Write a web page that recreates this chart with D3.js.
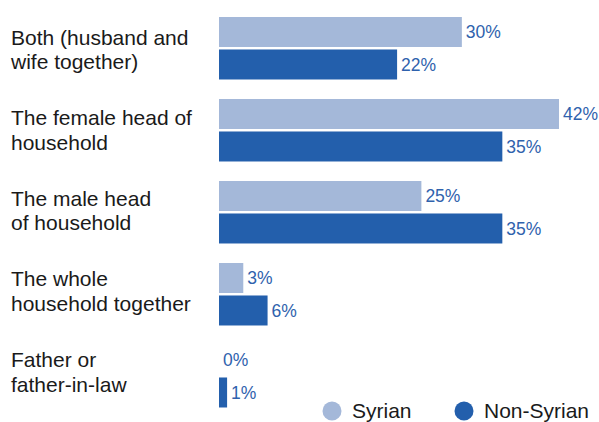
<!DOCTYPE html>
<html><head><meta charset="utf-8">
<script src="https://cdn.jsdelivr.net/npm/d3@7"></script>
<style>body{margin:0;background:#fff;}svg{display:block;font-family:"Liberation Sans",Arial,sans-serif;}</style>
</head><body>
<svg id="chart" width="599" height="422"></svg>
<script>
const categories = ["Both (husband and|wife together)", "The female head of|household", "The male head|of household", "The whole|household together", "Father or|father-in-law"];
const seriesNames = ["Syrian", "Non-Syrian"];
const syrian = [30, 42, 25, 3, 0];
const nonSyrian = [22, 35, 35, 6, 1];
const colors = ["#a4b8d9", "#235fac"];

const svg = d3.select("#chart");
const x = d3.scaleLinear().domain([0, 42]).range([219, 559]);
const y = d3.scaleBand().domain(categories).range([17, 427]).paddingInner(0).paddingOuter(0);
const sub = d3.scaleBand().domain(seriesNames).range([0, 64]).paddingInner(0.03);
const labelY = d3.scalePoint().domain(categories).range([44.5, 367]);

const data = categories.map((c, i) => ({c, vals: [syrian[i], nonSyrian[i]]}));

const g = svg.selectAll("g.grp").data(data).join("g").attr("class", "grp");
g.selectAll("rect").data(d => d.vals.map((v, k) => ({c: d.c, v, k}))).join("rect")
  .attr("x", x(0))
  .attr("y", d => y(d.c) + sub(seriesNames[d.k]))
  .attr("width", d => x(d.v) - x(0))
  .attr("height", 30)
  .attr("fill", d => colors[d.k]);
g.selectAll("text.val").data(d => d.vals.map((v, k) => ({c: d.c, v, k}))).join("text")
  .attr("class", "val")
  .attr("x", d => x(d.v) + 4)
  .attr("y", d => y(d.c) + sub(seriesNames[d.k]) + 15 + 6.3)
  .attr("font-size", 17.5)
  .attr("fill", "#2f62ad")
  .text(d => d.v + "%");

// category labels
const lab = svg.selectAll("text.cat").data(categories).join("text")
  .attr("class", "cat")
  .attr("x", 11)
  .attr("y", d => labelY(d))
  .attr("font-size", 21)
  .attr("fill", "#1a1a1a");
lab.selectAll("tspan").data(d => d.split("|")).join("tspan")
  .attr("x", 11)
  .attr("dy", (d, i) => i === 0 ? 0 : 24.5)
  .text(d => d);

// legend
const legendX = [332, 464];
const lg = svg.selectAll("g.lg").data(seriesNames).join("g").attr("class", "lg");
lg.append("circle").attr("cx", (d, i) => legendX[i]).attr("cy", 411).attr("r", 9.5).attr("fill", (d, i) => colors[i]);
lg.append("text").attr("x", (d, i) => legendX[i] + 20).attr("y", 418).attr("font-size", 21).attr("fill", "#1a1a1a").text(d => d);
</script>
</body></html>
